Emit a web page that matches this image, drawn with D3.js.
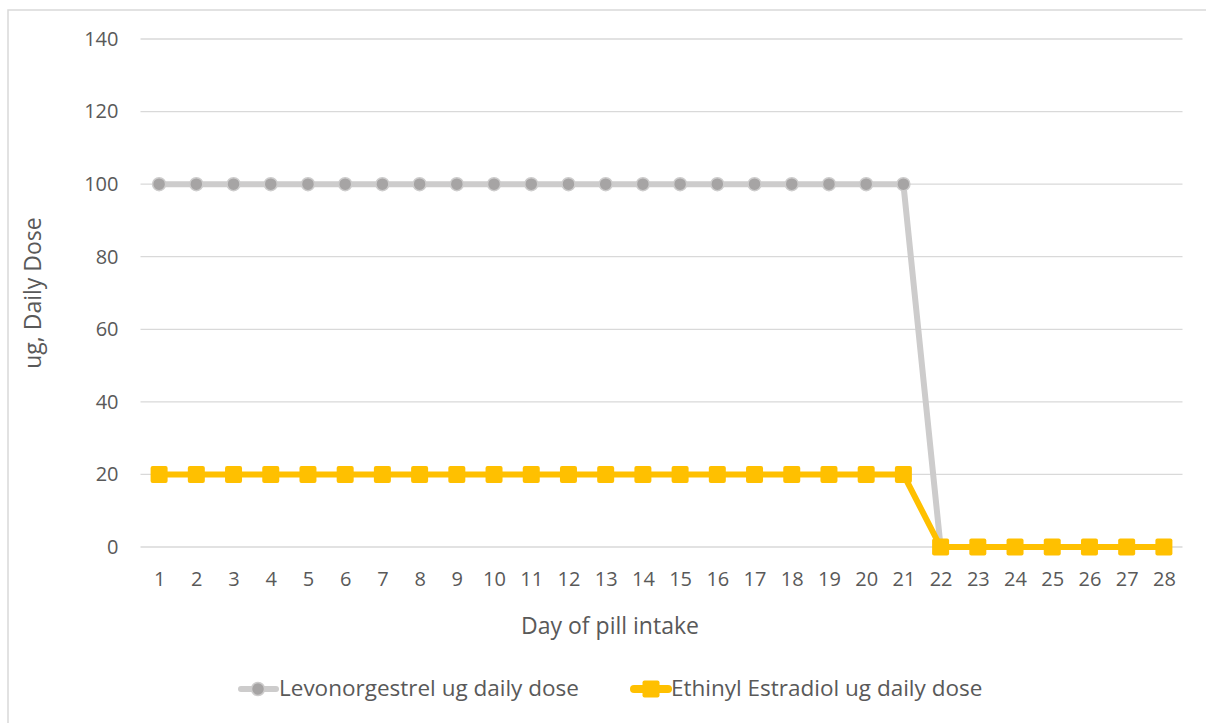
<!DOCTYPE html>
<html><head><meta charset="utf-8">
<script src="https://cdn.jsdelivr.net/npm/d3@7"></script>
<style>body{margin:0;background:#fff;overflow:hidden;} text{font-family:"Open Sans","Noto Sans",sans-serif;}</style>
</head><body><svg id="c" width="1206" height="723" style="display:block"></svg>
<script>
const days = d3.range(1, 29).map(String);
const levonorgestrel = [100,100,100,100,100,100,100,100,100,100,100,100,100,100,100,100,100,100,100,100,100,0,0,0,0,0,0,0];
const ethinylEstradiol = [20,20,20,20,20,20,20,20,20,20,20,20,20,20,20,20,20,20,20,20,20,0,0,0,0,0,0,0];
const yTicks = [0,20,40,60,80,100,120,140];
const seriesNames = ["Levonorgestrel ug daily dose","Ethinyl Estradiol ug daily dose"];

(function(){
const svg = d3.select("#c");
svg.append("rect").attr("x",8).attr("y",10).attr("width",1300).attr("height",800).attr("fill","#fff").attr("stroke","#d9d9d9").attr("stroke-width",1.5);

const pl=140.5, pr=1182.5, pt=39, pb=547;
const x = d3.scalePoint().domain(days).range([pl,pr]).padding(0.5);
const y = d3.scaleLinear().domain([0,140]).range([pb,pt]);

svg.append("g").selectAll("line").data(yTicks).join("line")
  .attr("x1",pl).attr("x2",pr).attr("y1",d=>y(d)).attr("y2",d=>y(d))
  .attr("stroke","#d9d9d9").attr("stroke-width",1.3);

const yAxis = svg.append("g").attr("transform",`translate(${pl},0)`)
  .call(d3.axisLeft(y).tickValues(yTicks).tickSize(0).tickPadding(22));
yAxis.select(".domain").remove();
yAxis.selectAll("text").attr("fill","#595959").style("font-size","20px");

const xAxis = svg.append("g").attr("transform",`translate(0,${pb})`)
  .call(d3.axisBottom(x).tickSize(0).tickPadding(25));
xAxis.select(".domain").remove();
xAxis.selectAll("text").attr("fill","#595959").style("font-size","20px");

svg.append("text").attr("x",610).attr("y",634).attr("text-anchor","middle")
  .attr("fill","#595959").style("font-size","23px").text("Day of pill intake");
svg.append("text").attr("transform","translate(41,293) rotate(-90)").attr("text-anchor","middle")
  .attr("fill","#595959").style("font-size","23px").text("ug, Daily Dose");

const line = d3.line().x((d,i)=>x(days[i])).y(d=>y(d));

svg.append("path").datum(levonorgestrel).attr("d",line).attr("fill","none")
  .attr("stroke","#cdcccc").attr("stroke-width",6).attr("stroke-linejoin","round");
svg.append("g").selectAll("circle").data(levonorgestrel).join("circle")
  .attr("cx",(d,i)=>x(days[i])).attr("cy",d=>y(d)).attr("r",6.5)
  .attr("fill","#a6a4a4").attr("stroke","#cdcccc").attr("stroke-width",1.5);

svg.append("path").datum(ethinylEstradiol).attr("d",line).attr("fill","none")
  .attr("stroke","#ffc000").attr("stroke-width",6).attr("stroke-linejoin","round");
svg.append("g").selectAll("rect").data(ethinylEstradiol).join("rect")
  .attr("x",(d,i)=>x(days[i])-8.5).attr("y",d=>y(d)-8.5).attr("width",17).attr("height",17)
  .attr("rx",2).attr("fill","#ffc000");

const lg = svg.append("g");
const ly = 689;
lg.append("line").attr("x1",241).attr("x2",276).attr("y1",ly).attr("y2",ly).attr("stroke","#cdcccc").attr("stroke-width",6).attr("stroke-linecap","round");
lg.append("circle").attr("cx",258).attr("cy",ly).attr("r",6.5).attr("fill","#a6a4a4").attr("stroke","#cdcccc").attr("stroke-width",1.5);
lg.append("text").attr("x",279).attr("y",696).attr("fill","#595959").style("font-size","22.5px").text(seriesNames[0]);
lg.append("line").attr("x1",634).attr("x2",668).attr("y1",ly).attr("y2",ly).attr("stroke","#ffc000").attr("stroke-width",8).attr("stroke-linecap","round");
lg.append("rect").attr("x",642.5).attr("y",ly-8.5).attr("width",17).attr("height",17).attr("rx",2).attr("fill","#ffc000");
lg.append("text").attr("x",671).attr("y",696).attr("fill","#595959").style("font-size","22.5px").text(seriesNames[1]);
})();
</script></body></html>
